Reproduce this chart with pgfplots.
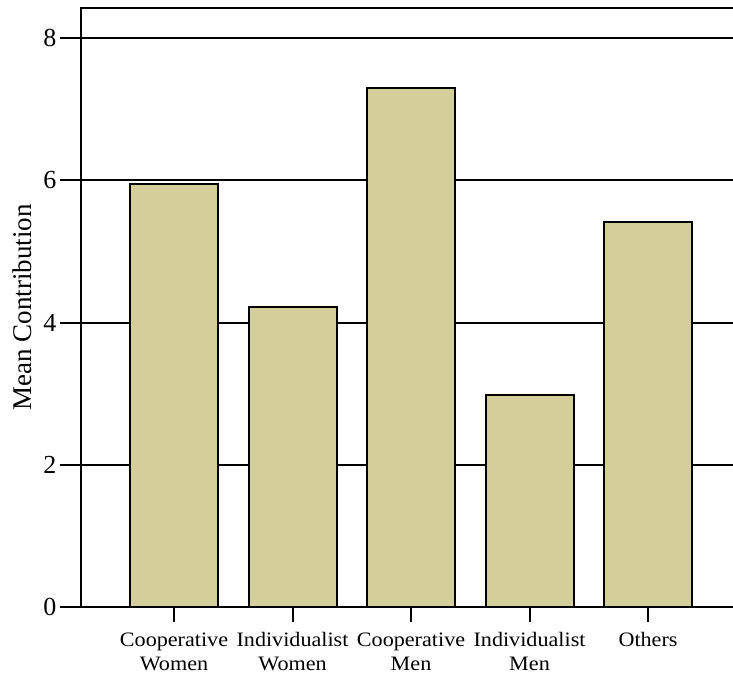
\documentclass[border=0pt]{standalone}
\usepackage{pgfplots}
\pgfplotsset{compat=1.18}
\usepackage{fontspec}
\setmainfont{Liberation Serif}
\newfontfamily\widefont[FakeStretch=1.08]{Liberation Serif}
\definecolor{barfill}{RGB}{211,206,154}
\begin{document}
\begin{tikzpicture}
\begin{axis}[
    scale only axis,
    width=652pt, height=599pt,
    xmin=-0.785, xmax=4.717,
    ymin=0, ymax=8.425,
    axis line style={draw=none},
    xtick={0,1,2,3,4},
    xtick pos=bottom, ytick pos=left,
    xticklabels={{Cooperative\\Women},{Individualist\\Women},{Cooperative\\Men},{Individualist\\Men},{Others}},
    x tick label style={align=center, font=\widefont\fontsize{20.5}{24}\selectfont, anchor=north, yshift=-1pt},
    ytick={0,2,4,6,8},
    y tick label style={font=\fontsize{26}{30}\selectfont},
    /pgf/number format/assume math mode=true,
    tick align=outside,
    major tick length=21pt,
    x tick style={/pgfplots/major tick length=15pt},
    tick style={black, line width=2pt},
    ymajorgrids,
    grid style={black, line width=2pt},
    ylabel={Mean Contribution},
    ylabel style={font=\fontsize{27}{30}\selectfont, yshift=5pt},
    clip=false,
]
\addplot[ybar, bar width=88pt, fill=barfill, draw=black, line width=2pt]
    coordinates {(0,5.95) (1,4.22) (2,7.30) (3,2.98) (4,5.41)};
\draw[black, line width=2pt] (rel axis cs:0,0) -- (rel axis cs:1,0);
\draw[black, line width=2pt] (rel axis cs:0,0) -- (rel axis cs:0,1) -- (rel axis cs:1,1);
\path (rel axis cs:0,0) ++(-81pt,-70pt) coordinate (bbsw);
\path (rel axis cs:1,1) ++(0pt,8pt) coordinate (bbne);
\end{axis}
\pgfresetboundingbox
\path[use as bounding box] (bbsw) rectangle (bbne);
\end{tikzpicture}
\end{document}
